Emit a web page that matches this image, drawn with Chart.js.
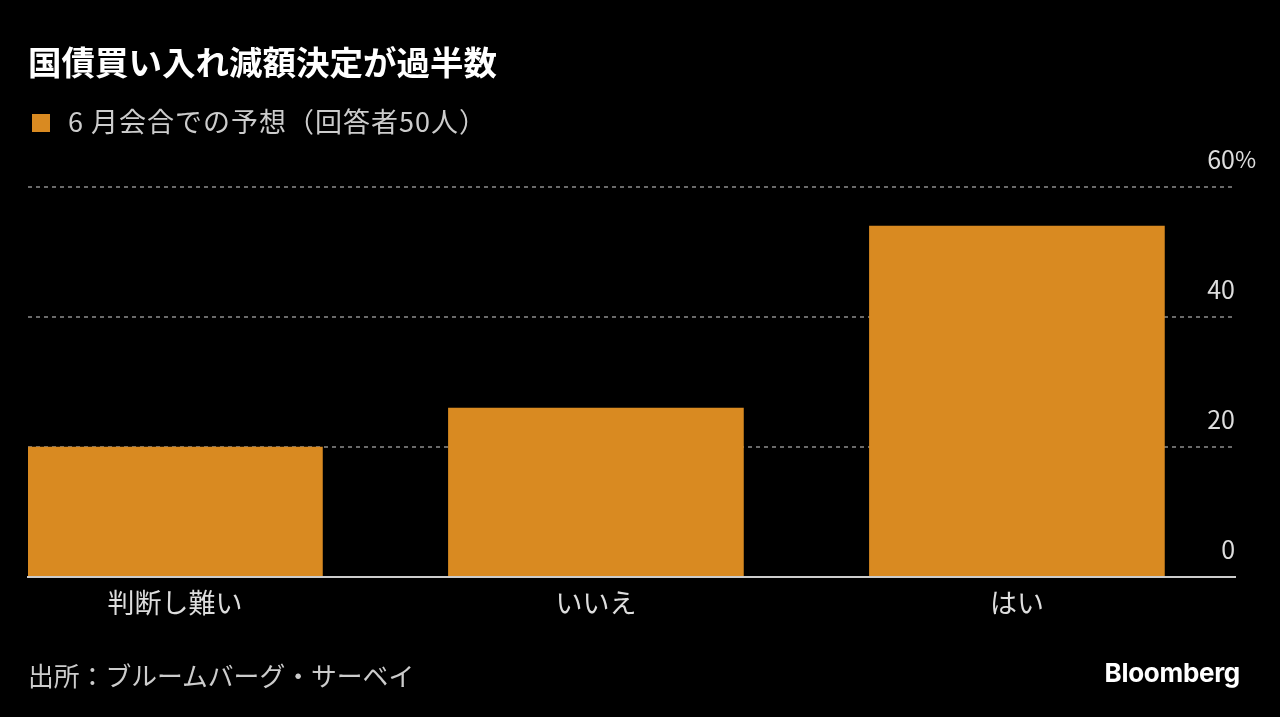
<!DOCTYPE html>
<html lang="ja">
<head>
<meta charset="utf-8">
<script src="https://cdn.jsdelivr.net/npm/chart.js@4"></script>
<style>
  html, body { margin: 0; padding: 0; background: #000; }
  body { width: 1280px; height: 717px; position: relative; overflow: hidden; font-family: "Noto Sans CJK JP", "Noto Sans", sans-serif; }
  #wrap { position: absolute; left: 0; top: 0; width: 1280px; height: 717px; }
  .title { position: absolute; left: 28px; top: 39px; font-size: 33.5px; font-weight: 700; color: #fff; line-height: 44px; white-space: nowrap; }
  .legend { position: absolute; left: 32px; top: 101px; font-size: 27px; letter-spacing: 1px; color: #ccc; line-height: 40px; white-space: nowrap; }
  .legend .box { display: inline-block; width: 18px; height: 18px; background: #d98a21; vertical-align: 0px; margin-right: 18px; }
  .source { position: absolute; left: 28px; top: 655px; font-size: 25.8px; color: #ccc; line-height: 40px; white-space: nowrap; }
  .brand { position: absolute; right: 40px; top: 653px; font-family: Inter, "Noto Sans", sans-serif; font-size: 26px; font-weight: 700; color: #fff; line-height: 40px; letter-spacing: -0.3px; }
</style>
</head>
<body>
<div id="wrap"><canvas id="mainChart"></canvas></div>
<div class="title">国債買い入れ減額決定が過半数</div>
<div class="legend"><span class="box"></span>6 月会合での予想（回答者50人）</div>
<div class="source">出所：ブルームバーグ・サーベイ</div>
<div class="brand">Bloomberg</div>
<script>
const categories = ['判断し難い', 'いいえ', 'はい'];
const seriesName = '6 月会合での予想（回答者50人）';
const seriesValues = [20, 26, 54];
const yTicks = [0, 20, 40, 60];

// y labels sit above the gridlines, numbers right-aligned, "%" hanging after the top one
const yLabelPlugin = {
    id: 'yLabels',
    afterDraw(chart) {
        const y = chart.scales.y;
        const ctx = chart.ctx;
        const right = chart.chartArea.right;
        ctx.save();
        ctx.font = '25px "Noto Sans CJK JP", "Noto Sans", sans-serif';
        ctx.fillStyle = '#ddd';
        ctx.textBaseline = 'middle';
        yTicks.forEach(v => {
            const py = y.getPixelForValue(v) - 28;
            ctx.textAlign = 'right';
            ctx.fillText(String(v), right, py);
            if (v === yTicks[yTicks.length - 1]) {
                ctx.textAlign = 'left';
                ctx.font = '23px "Noto Sans CJK JP", "Noto Sans", sans-serif';
                ctx.fillText('%', right, py);
            }
        });
        ctx.restore();
    }
};

function buildChart() {
    const ctx = document.getElementById('mainChart').getContext('2d');
    new Chart(ctx, {
        type: 'bar',
        data: {
            datasets: [{
                label: seriesName,
                data: seriesValues.map((v, i) => ({ x: i, y: v })),
                backgroundColor: '#d98a21',
                barThickness: 295,
                borderWidth: 0
            }]
        },
        options: {
            responsive: true,
            maintainAspectRatio: false,
            animation: false,
            layout: { padding: { left: 28, right: 45, top: 187, bottom: 80 } },
            plugins: { legend: { display: false }, tooltip: { enabled: false } },
            scales: {
                x: {
                    type: 'linear',
                    offset: false,
                    min: -0.349,
                    max: 2.518,
                    grid: { display: false, drawTicks: false },
                    border: { display: true, color: '#ccc', width: 2, z: 1 },
                    ticks: {
                        stepSize: 1,
                        includeBounds: false,
                        autoSkip: false,
                        maxRotation: 0,
                        padding: 10,
                        color: '#ddd',
                        font: { family: '"Noto Sans CJK JP", sans-serif', size: 27 },
                        callback: v => Number.isInteger(v) ? (categories[v] ?? '') : ''
                    },
                    afterFit: s => { s.height = 60; }
                },
                y: {
                    position: 'right',
                    min: 0,
                    max: 60,
                    grid: {
                        drawTicks: false,
                        lineWidth: 2,
                        color: c => c.tick.value === 0 ? 'rgba(0,0,0,0)' : '#6a6a6a'
                    },
                    border: { display: false, dash: [4, 4] },
                    ticks: { display: false, stepSize: 20 },
                    afterFit: s => { s.width = 0; }
                }
            }
        },
        plugins: [yLabelPlugin]
    });
}

document.addEventListener('DOMContentLoaded', buildChart);
</script>
</body>
</html>
